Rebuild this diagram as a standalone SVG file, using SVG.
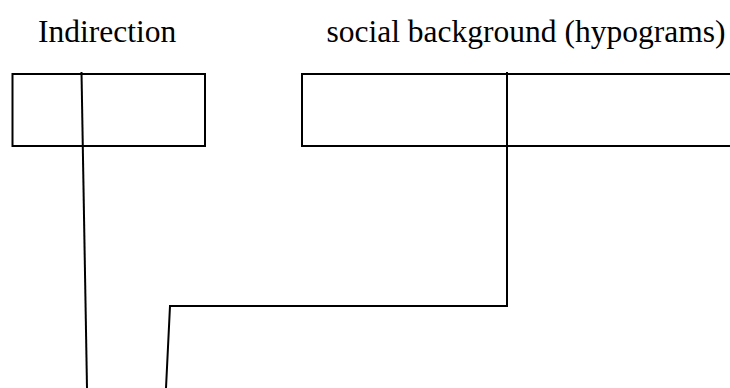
<svg xmlns="http://www.w3.org/2000/svg" width="730" height="388" viewBox="0 0 730 388">
<style>
.box{fill:none;stroke:#000;stroke-width:2}
.lbl{font-family:"Liberation Serif","Times New Roman",serif;font-size:31.5px;fill:#000}
.conn{fill:none;stroke:#000;stroke-width:2;stroke-linejoin:miter}
</style>
<rect width="730" height="388" fill="#fff"/>
<g id="indirection">
<text class="lbl" x="38" y="42">Indirection</text>
<rect class="box" x="12.5" y="74" width="192.5" height="72"/>
</g>
<g id="social-background">
<text class="lbl" x="326.5" y="42">social background (hypograms)</text>
<rect class="box" x="302" y="74" width="440" height="72"/>
</g>
<g id="connectors">
<path class="conn" d="M81.5,72 L87,388"/>
<path class="conn" d="M507,72 L507,306 L170,306 L166,388"/>
</g>
</svg>
